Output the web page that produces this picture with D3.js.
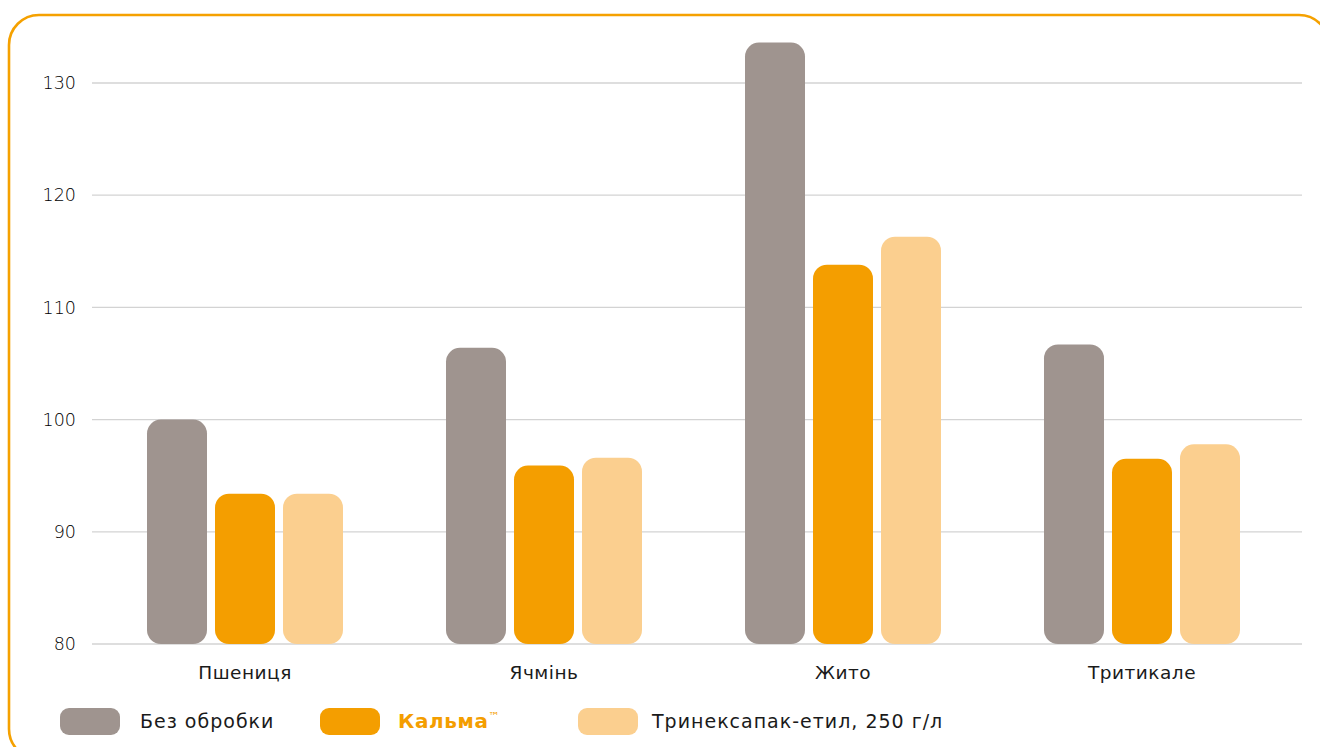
<!DOCTYPE html>
<html><head><meta charset="utf-8">
<script src="https://cdn.jsdelivr.net/npm/d3@7"></script>
<style>body{margin:0;background:#fff;}svg{display:block;font-family:"DejaVu Sans",sans-serif;}</style>
</head><body>
<svg id="c" width="1320" height="747"></svg>
<script>
const categories = ["Пшениця","Ячмінь","Жито","Тритикале"];
const seriesNames = ["Без обробки","Кальма","Тринексапак-етил, 250 г/л"];
const noTreatment = [100, 106.4, 133.6, 106.7];
const kalma = [93.4, 95.9, 113.8, 96.5];
const trinexapac = [93.4, 96.6, 116.3, 97.8];
const yTicks = [80, 90, 100, 110, 120, 130];
const colors = ["#9f948f", "#f49e00", "#fbcf8f"];

const svg = d3.select("#c");
svg.append("rect").attr("x",9).attr("y",15).attr("width",1320).attr("height",744)
  .attr("rx",30).attr("fill","none").attr("stroke","#f5a100").attr("stroke-width",2.6);

const y = d3.scaleLinear().domain([80,130]).range([644,83]);
const x0 = d3.scaleBand().domain(categories).range([95.5,1291.5]);

// grid
svg.append("g").selectAll("line").data(yTicks).join("line")
  .attr("x1",92).attr("x2",1302).attr("y1",d=>y(d)).attr("y2",d=>y(d))
  .attr("stroke","#d3d3d3").attr("stroke-width",1.3);
svg.append("g").selectAll("text").data(yTicks).join("text")
  .attr("x",76).attr("y",d=>y(d)).attr("dy","0.35em").attr("text-anchor","end")
  .attr("font-size",17.5).attr("font-weight",300).attr("fill","#000").text(d=>d);

const data = [noTreatment, kalma, trinexapac];
const g = svg.append("g");
categories.forEach((c,i)=>{
  const cx = x0(c) + x0.bandwidth()/2 - 98;
  data.forEach((s,j)=>{
    const bx = cx + j*68;
    g.append("rect").attr("x",bx).attr("width",60)
      .attr("y",y(s[i])).attr("height",y(80)-y(s[i]))
      .attr("rx",14).attr("fill",colors[j]);
  });
  svg.append("text").attr("x",x0(c)+x0.bandwidth()/2).attr("y",679)
    .attr("text-anchor","middle").attr("font-size",18.5).attr("letter-spacing",0.5)
    .attr("fill","#1a1a1a").text(c);
});

// legend
const legX = [60, 320, 578];
const lg = svg.append("g");
seriesNames.forEach((n,j)=>{
  lg.append("rect").attr("x",legX[j]).attr("y",708).attr("width",60).attr("height",27)
    .attr("rx",9).attr("fill",colors[j]);
  const t = lg.append("text").attr("x",legX[j]+(j==0?80:(j==1?78:74))).attr("y",728)
    .attr("font-size",19);
  if(j===1){
    t.attr("fill","#f49e00").attr("font-weight","bold").attr("font-size",20).attr("letter-spacing",0.6).text(n);
    t.append("tspan").attr("font-size",11).attr("font-weight","normal").attr("dy","-0.7em").text("™");
  } else t.attr("fill","#1a1a1a").attr("letter-spacing",1).text(n);
});
</script>
</body></html>
